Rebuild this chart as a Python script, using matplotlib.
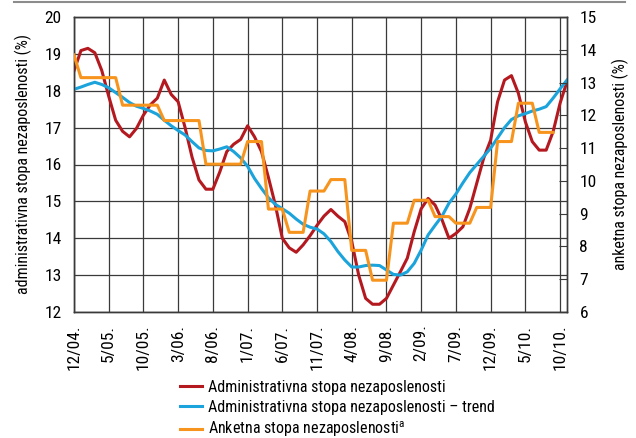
import numpy as np
import matplotlib
matplotlib.use('Agg')
import matplotlib.pyplot as plt
from matplotlib.lines import Line2D
from matplotlib import font_manager

# pick a narrow sans if one is available
names = {f.name for f in font_manager.fontManager.ttflist}
family = 'Liberation Sans'
for cand in ['Liberation Sans Narrow', 'Roboto Condensed', 'Arial Narrow', 'Open Sans Condensed']:
    if cand in names:
        family = cand
        break
narrow = family != 'Liberation Sans'
plt.rcParams['font.family'] = [family, 'DejaVu Sans']
plt.rcParams['mathtext.fontset'] = 'custom'

# monthly, 12/04 .. 11/10
tick_labels = ['12/04.', '5/05.', '10/05.', '3/06.', '8/06.', '1/07.', '6/07.', '11/07.',
               '4/08.', '9/08.', '2/09.', '7/09.', '12/09.', '5/10.', '10/10.']

admin_rate = [18.54, 19.09, 19.15, 19.03, 18.55, 17.85, 17.2, 16.9, 16.75, 16.98,
              17.34, 17.62, 17.8, 18.29, 17.9, 17.7, 17.0, 16.2, 15.58, 15.33,
              15.33, 15.8, 16.35, 16.55, 16.68, 17.05, 16.75, 16.35, 15.65, 14.9,
              14.0, 13.74, 13.62, 13.82, 14.07, 14.35, 14.6, 14.78, 14.6, 14.45,
              13.91, 13.0, 12.37, 12.21, 12.21, 12.37, 12.73, 13.09, 13.46, 14.18,
              14.8, 15.08, 14.9, 14.5, 14.0, 14.13, 14.31, 14.81, 15.49, 16.17,
              16.66, 17.7, 18.29, 18.41, 17.93, 17.16, 16.62, 16.39, 16.39, 16.89,
              17.66, 18.25]

admin_trend = [18.04, 18.1, 18.17, 18.23, 18.17, 18.08, 17.95, 17.82, 17.68, 17.58,
               17.52, 17.45, 17.36, 17.2, 17.05, 16.92, 16.8, 16.62, 16.45, 16.38,
               16.37, 16.42, 16.48, 16.35, 16.18, 15.95, 15.62, 15.35, 15.1, 14.92,
               14.8, 14.68, 14.52, 14.38, 14.3, 14.25, 14.12, 13.91, 13.64, 13.41,
               13.22, 13.22, 13.26, 13.27, 13.26, 13.14, 13.02, 13.0, 13.09, 13.32,
               13.68, 14.09, 14.35, 14.6, 14.95, 15.2, 15.5, 15.78, 16.0, 16.22,
               16.44, 16.72, 17.0, 17.22, 17.32, 17.38, 17.45, 17.5, 17.57, 17.8,
               18.05, 18.29]

# survey rate (right axis), ends 9/10
survey_rate = [13.84, 13.15, 13.15, 13.15, 13.15, 13.15, 13.15, 12.31, 12.31, 12.31,
               12.31, 12.31, 12.31, 11.84, 11.84, 11.84, 11.84, 11.84, 11.84, 10.51,
               10.51, 10.51, 10.51, 10.51, 10.51, 11.2, 11.2, 11.2, 9.14, 9.14,
               9.14, 8.43, 8.43, 8.43, 9.69, 9.69, 9.69, 10.04, 10.04, 10.04,
               7.88, 7.88, 7.88, 6.97, 6.97, 6.97, 8.71, 8.71, 8.71, 9.41,
               9.41, 9.41, 8.91, 8.91, 8.91, 8.71, 8.71, 8.71, 9.19, 9.19,
               9.19, 11.2, 11.2, 11.2, 12.37, 12.37, 12.37, 11.48, 11.48, 11.48]

red = '#B3191F'
blue = '#1BA3DB'
orange = '#F7941D'
grid_c = '#3a3a3a'

fs_tick = 12.5 if narrow else 11.5
fs_lab = 11.5 if narrow else 10
fs_leg = 11.5 if narrow else 10.5

x = np.arange(len(admin_rate))
xs = np.arange(len(survey_rate))

fig = plt.figure(figsize=(6.36, 4.38), dpi=100)
ax = fig.add_axes([74/636, 1-312/438, (567-74)/636, (312-17)/438])
ax2 = ax.twinx()

l1, = ax.plot(x, admin_rate, color=red, lw=2.2, zorder=3)
l2, = ax.plot(x, admin_trend, color=blue, lw=2.2, zorder=3)
l3, = ax2.plot(xs, survey_rate, color=orange, lw=2.2, zorder=3)

ax.set_xlim(0, 71)
ax.set_ylim(12, 20)
ax2.set_ylim(6, 15)
ax.set_xticks(np.arange(0, 71, 5))
ax.set_xticklabels(tick_labels, rotation=90, fontsize=fs_tick)
ax.set_yticks(np.arange(12, 21, 1))
ax.tick_params(axis='y', length=0, pad=9, labelsize=fs_tick)
ax.tick_params(axis='x', length=0, pad=9)
ax2.set_yticks(np.arange(6, 16, 1))
ax2.tick_params(axis='y', direction='in', length=6, width=0.8, pad=9, labelsize=fs_tick,
                color=grid_c)
ax.grid(True, color=grid_c, lw=0.9)
for a in (ax, ax2):
    for s in a.spines.values():
        s.set_color(grid_c)
        s.set_linewidth(1.0)

ax.set_ylabel('administrativna stopa nezaposlenosti (%)', fontsize=fs_lab, labelpad=9)
ax2.set_ylabel('anketna stopa nezaposlenosti (%)', fontsize=fs_lab, labelpad=11)

fig.legend([l1, l2, l3],
           ['Administrativna stopa nezaposlenosti',
            'Administrativna stopa nezaposlenosti – trend',
            r'Anketna stopa nezaposlenosti$^{\mathregular{a}}$'],
           loc='upper left', bbox_to_anchor=(180/636, 1-380/438), frameon=False,
           fontsize=fs_leg, handlelength=1.35, handletextpad=0.4, labelspacing=0.3,
           borderpad=0, borderaxespad=0)

fig.add_artist(Line2D([14/636, 625/636], [1-2/438, 1-2/438], color='#8c8c8c', lw=1.5))

fig.savefig('out.png', dpi=100)
